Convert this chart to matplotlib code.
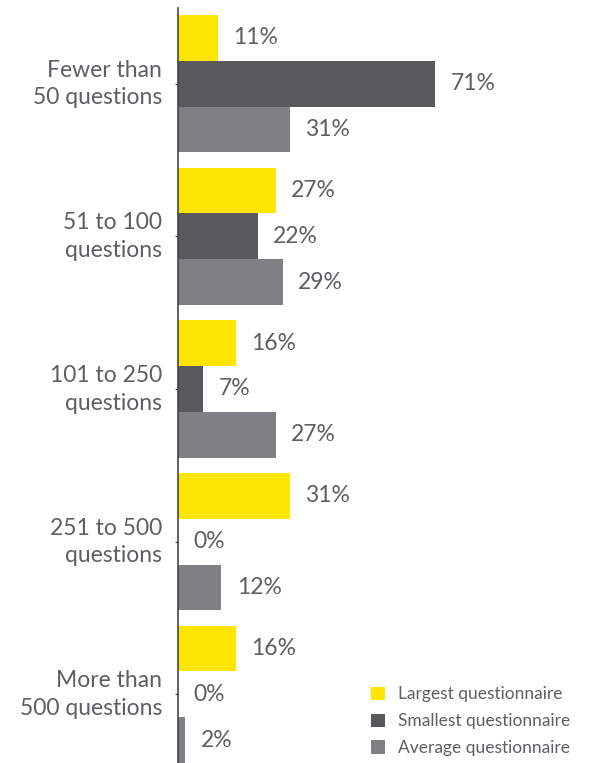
import matplotlib
matplotlib.use("Agg")
import matplotlib.pyplot as plt
from matplotlib.patches import Patch
from matplotlib.transforms import ScaledTranslation
import numpy as np

# Question-count buckets and share of respondents per questionnaire type (%)
categories = ["Fewer than\n50 questions", "51 to 100\nquestions", "101 to 250\nquestions",
              "251 to 500\nquestions", "More than\n500 questions"]
largest = [11, 27, 16, 31, 16]
smallest = [71, 22, 7, 0, 0]
average = [31, 29, 27, 12, 2]
series_names = ["Largest questionnaire", "Smallest questionnaire", "Average questionnaire"]

colors = ["#FFE600", "#59595C", "#7F7F84"]
text_color = "#5E5E63"

plt.rcParams["font.family"] = ["Lato", "DejaVu Sans"]

W, H = 593, 763
fig = plt.figure(figsize=(W / 100, H / 100), dpi=100)
ax = fig.add_axes([178 / W, 0, (W - 178) / W, (H - 8) / H])

group_gap = 3.333
centers = np.arange(len(categories)) * group_gap
for k, (vals, col) in enumerate(zip([largest, smallest, average], colors)):
    ys = centers + (k - 1)
    ax.barh(ys, vals, height=1.0, color=col, edgecolor="none", label=series_names[k])
    for y, v in zip(ys, vals):
        ax.text(v + 4.2, y, f"{v}%", va="center", ha="left", fontsize=16.5,
                color=text_color)

ax.set_ylim(centers[-1] + 1.5, -1.5 - 7 / 45.8)
ax.set_xlim(0, 114.6)
ax.set_yticks(centers)
ax.set_yticklabels(categories, fontsize=16.5, color=text_color, linespacing=1.4)
ax.tick_params(axis="y", length=2, width=0.8, color="#444444", pad=9.5)
# nudge the two-line category labels up slightly so they sit centred on each group
lift = ScaledTranslation(0, 5 / 100, fig.dpi_scale_trans)
for lbl in ax.get_yticklabels():
    lbl.set_transform(lbl.get_transform() + lift)
ax.set_xticks([])
for side in ["top", "right", "bottom"]:
    ax.spines[side].set_visible(False)
ax.spines["left"].set_color("#444444")
ax.spines["left"].set_linewidth(1.2)

handles = [Patch(facecolor=c, edgecolor="none") for c in colors]
fig.legend(handles, series_names, loc="lower left", bbox_to_anchor=(371 / W, 7 / H),
           frameon=False, prop={"size": 12.5}, labelcolor=text_color,
           handlelength=0.8, handleheight=0.8, handletextpad=0.75, labelspacing=0.62,
           borderpad=0.0, borderaxespad=0.0)

fig.savefig("out.png", dpi=100)
